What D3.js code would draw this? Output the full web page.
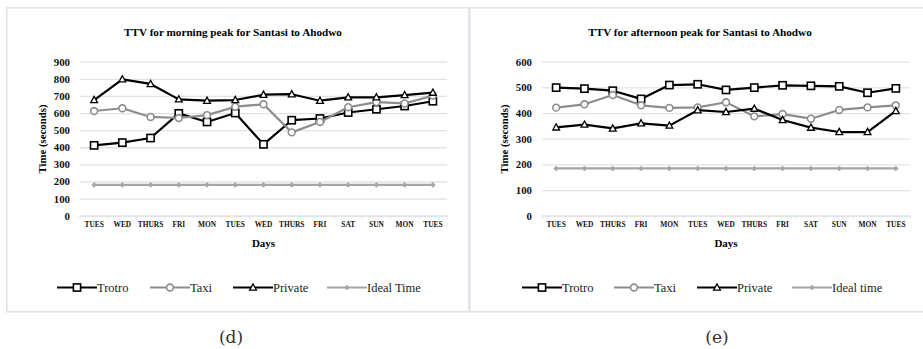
<!DOCTYPE html>
<html>
<head>
<meta charset="utf-8">
<script src="https://cdn.jsdelivr.net/npm/d3@7"></script>
<style>
body { margin:0; background:#fff; }
svg text { font-family: "Liberation Serif", Tinos, "DejaVu Serif", serif !important; }
svg text.tag { font-family: "DejaVu Serif", serif !important; }
</style>
</head>
<body>
<div id="figure"></div>
<script>

var days = ["TUES","WED","THURS","FRI","MON","TUES","WED","THURS","FRI","SAT","SUN","MON","TUES"];

// morning peak (d)
var amTrotro  = [411,427,454,598,548,600,417,558,568,603,622,641,669];
var amTaxi    = [612,628,577,571,588,637,651,487,548,634,664,656,702];
var amPrivate = [676,797,770,680,672,676,707,710,672,692,692,705,719];
var amIdeal   = [180,180,180,180,180,180,180,180,180,180,180,180,180];
var amTicks   = [0,100,200,300,400,500,600,700,800,900];

// afternoon peak (e)
var pmTrotro  = [499,495,487,455,509,512,490,499,508,506,504,479,496];
var pmTaxi    = [421,434,470,430,420,422,442,387,396,378,412,422,430];
var pmPrivate = [344,355,340,360,351,411,404,417,373,343,326,326,408];
var pmIdeal   = [184,184,184,184,184,184,184,184,184,184,184,184,184];
var pmTicks   = [0,100,200,300,400,500,600];

var W = 923, H = 349;
var gridCol = "#dfe3e8";
var frameCol = "#e1e5ea";

var svg = d3.select("#figure").append("svg").attr("width", W).attr("height", H);

// panel frame lines
svg.append("rect").attr("x",7).attr("y",7).attr("width",W-7).attr("height",1.6).attr("fill",frameCol);
svg.append("rect").attr("x",6).attr("y",7).attr("width",1.6).attr("height",305).attr("fill",frameCol);
svg.append("rect").attr("x",468).attr("y",7).attr("width",2.6).attr("height",305).attr("fill",frameCol);
svg.append("rect").attr("x",6).attr("y",310.8).attr("width",W-6).attr("height",1.8).attr("fill",frameCol);

function drawMarker(g, kind, x, y, stroke) {
	if (kind=="square") {
		g.append("rect").attr("x",x-3.6).attr("y",y-3.6).attr("width",7.2).attr("height",7.2)
		.attr("fill","#fff").attr("stroke",stroke).attr("stroke-width",1.6);
	} else if (kind=="circle") {
		g.append("circle").attr("cx",x).attr("cy",y).attr("r",3.4)
		.attr("fill","#fff").attr("stroke",stroke).attr("stroke-width",1.6);
	} else if (kind=="triangle") {
		g.append("path").attr("d","M"+x+","+(y-3.6)+"L"+(x+3.4)+","+(y+2.6)+"L"+(x-3.4)+","+(y+2.6)+"Z")
		.attr("fill","#fff").attr("stroke",stroke).attr("stroke-width",1.3);
	} else if (kind=="diamond") {
		g.append("path").attr("d","M"+x+","+(y-2.8)+"L"+(x+2.8)+","+y+"L"+x+","+(y+2.8)+"L"+(x-2.8)+","+y+"Z")
		.attr("fill",stroke).attr("stroke","none");
	}
}

function chart(p) {
	var g = svg.append("g");

	var x = d3.scaleBand().domain(d3.range(days.length)).range([p.x0, p.x1]);
	var y = d3.scaleLinear().domain([0, p.ticks[p.ticks.length-1]]).range([215.7, 61.7]);

	g.append("text").text(p.title)
	.attr("x", p.cx).attr("y", 36)
	.attr("text-anchor","middle").attr("font-weight","bold").attr("font-size","11.2px");

	// gridlines + y labels
	var yAxis = d3.axisLeft(y).tickValues(p.ticks).tickSize(-(p.x1-p.x0)).tickPadding(10);
	var ya = g.append("g").attr("transform","translate("+p.x0+",0)").call(yAxis);
	ya.select(".domain").remove();
	ya.selectAll(".tick line").attr("stroke",gridCol).attr("stroke-width",1.3);
	ya.selectAll(".tick text").attr("font-weight","bold")
	.attr("font-size","10.8px").attr("fill","#111");

	// x axis baseline with ticks
	var xAxis = d3.axisBottom(x).tickFormat(function(i){ return days[i]; }).tickSize(0).tickPadding(6);
	var xa = g.append("g").attr("transform","translate(0,215.7)").call(xAxis);
	xa.select(".domain").attr("stroke",gridCol).attr("stroke-width",1.3);
	xa.selectAll(".tick text").attr("font-weight","bold")
	.attr("font-size","7.4px").attr("fill","#111");
	xa.selectAll("line.sep").data(d3.range(days.length+1)).enter().append("line")
	.attr("x1",function(i){ return p.x0 + i*x.step(); }).attr("x2",function(i){ return p.x0 + i*x.step(); })
	.attr("y1",0).attr("y2",3).attr("stroke",gridCol).attr("stroke-width",1);

	g.append("text").text("Days").attr("x",(p.x0+p.x1)/2).attr("y",247)
	.attr("text-anchor","middle").attr("font-weight","bold").attr("font-size","11px");

	g.append("text").text("Time (seconds)")
	.attr("transform","translate("+(p.x0-34)+",139) rotate(-90)")
	.attr("text-anchor","middle").attr("font-weight","bold").attr("font-size","10.8px");

	// series
	var line = d3.line().x(function(d,i){ return x(i)+x.bandwidth()/2; }).y(function(d){ return y(d); });
	p.series.forEach(function(s) {
		g.append("path").datum(s.data).attr("d",line).attr("fill","none")
		.attr("stroke",s.color).attr("stroke-width",s.width).attr("stroke-linejoin","round");
		s.data.forEach(function(v,i){
			drawMarker(g, s.marker, x(i)+x.bandwidth()/2, y(v), s.color);
		});
	});

	// legend
	p.series.forEach(function(s,k) {
		var lx = p.legendX[k], ly = 287.5;
		g.append("line").attr("x1",lx).attr("x2",lx+40).attr("y1",ly).attr("y2",ly)
		.attr("stroke",s.color).attr("stroke-width",s.width);
		drawMarker(g, s.marker, lx+20, ly, s.color);
		g.append("text").text(s.name).attr("x",lx+40).attr("y",ly+4)
		.attr("font-size","12.5px").attr("fill","#222");
	});

	g.append("text").attr("class","tag").text(p.tag).attr("x",p.tagX).attr("y",343)
	.attr("text-anchor","middle").attr("font-size","17px").attr("fill","#333");
}

chart({
	title: "TTV for morning peak for Santasi to Ahodwo", cx: 233,
	x0: 80, x1: 447, ticks: amTicks, tag: "(d)", tagX: 231,
	legendX: [57, 150, 233, 327],
	series: [
		{name:"Trotro", data:amTrotro, color:"#000", width:2.2, marker:"square"},
		{name:"Taxi", data:amTaxi, color:"#8c8c8c", width:2.2, marker:"circle"},
		{name:"Private", data:amPrivate, color:"#000", width:2.2, marker:"triangle"},
		{name:"Ideal Time", data:amIdeal, color:"#a6a6a6", width:2.2, marker:"diamond"}
	]
});

chart({
	title: "TTV for afternoon peak for Santasi to Ahodwo", cx: 700,
	x0: 542, x1: 910, ticks: pmTicks, tag: "(e)", tagX: 717,
	legendX: [522, 614, 697, 792],
	series: [
		{name:"Trotro", data:pmTrotro, color:"#000", width:2.2, marker:"square"},
		{name:"Taxi", data:pmTaxi, color:"#8c8c8c", width:2.2, marker:"circle"},
		{name:"Private", data:pmPrivate, color:"#000", width:2.2, marker:"triangle"},
		{name:"Ideal time", data:pmIdeal, color:"#a6a6a6", width:2.2, marker:"diamond"}
	]
});

</script>
</body>
</html>
